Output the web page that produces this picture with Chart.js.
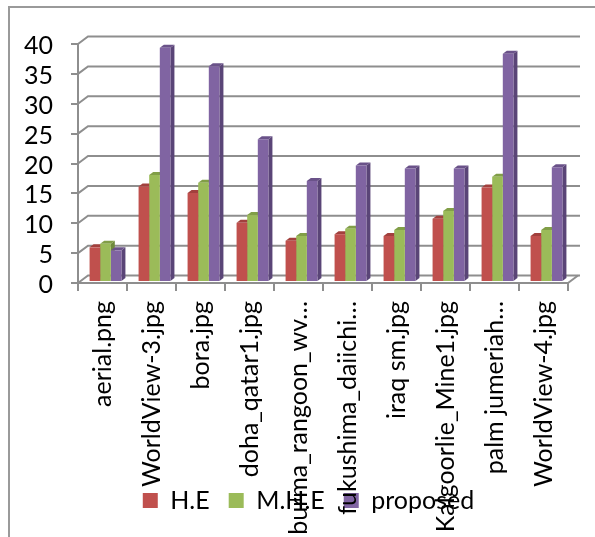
<!DOCTYPE html>
<html><head><meta charset="utf-8">
<script src="https://cdn.jsdelivr.net/npm/chart.js@4/dist/chart.umd.min.js"></script>
<style>
html,body{margin:0;padding:0;background:#fff;overflow:hidden;}
#wrap{position:relative;width:595px;height:537px;overflow:hidden;}
#frame{position:absolute;left:8px;top:6px;width:700px;height:700px;border-left:2px solid #9a9a9a;border-top:2px solid #9a9a9a;}
canvas{position:absolute;left:0;top:0;}
</style></head><body>
<div id="wrap"><div id="frame"></div><canvas id="c" width="595" height="537"></canvas></div>
<script>
// ---- data ----
const categories = ["aerial.png","WorldView-3.jpg","bora.jpg","doha_qatar1.jpg","burma_rangoon_wv\u2026","fukushima_daiichi\u2026","iraq sm.jpg","Kalgoorlie_Mine1.jpg","palm jumeriah\u2026","WorldView-4.jpg"];
const seriesNames = ["H.E","M.H.E","proposed"];
const heValues = [5.8, 16.0, 14.9, 9.9, 6.9, 8.0, 7.7, 10.6, 15.8, 7.7];
const mheValues = [6.4, 17.9, 16.6, 11.2, 7.7, 8.9, 8.7, 11.9, 17.6, 8.7];
const proposedValues = [5.3, 39.2, 36.1, 23.9, 16.9, 19.5, 19.0, 19.0, 38.2, 19.2];
const yMin = 0, yMax = 40, yStep = 5;

// ---- styles ----
const FONT = "Lato, 'Liberation Sans', sans-serif";
const gridColor = '#8e8e8e';
const fronts = ['#C0504D','#9BBB59','#8064A2'];
const sides  = ['#8B3533','#6F8A3C','#5A4577'];
const tops   = ['#A2403D','#819E47','#6A5289'];
const BDX = 4, BDY = 3;      // bar depth
const WDX = 10, WDY = 7.5;   // wall depth

const noLabelClip = {
  id: 'noLabelClip',
  beforeDraw(chart) {
    Object.values(chart.scales).forEach(s => { s._computeLabelArea = () => undefined; });
  }
};

const threeD = {
  id: 'threeD',
  beforeDatasetsDraw(chart) {
    const {ctx, chartArea: ca, scales: {x, y}} = chart;
    ctx.save();
    ctx.strokeStyle = gridColor; ctx.lineWidth = 2;
    y.ticks.forEach(t => {
      const py = y.getPixelForValue(t.value);
      ctx.beginPath();
      ctx.moveTo(ca.left, py);
      ctx.lineTo(ca.left + WDX, py - WDY);
      ctx.lineTo(ca.right + WDX + 2, py - WDY);
      ctx.stroke();
    });
    const y0 = y.getPixelForValue(0);
    ctx.beginPath(); ctx.moveTo(ca.right, y0); ctx.lineTo(ca.right + WDX, y0 - WDY); ctx.stroke();
    ctx.restore();
    ctx.save();
    ctx.translate(3, -1);
    chart.data.datasets.forEach((ds, i) => {
      const meta = chart.getDatasetMeta(i);
      meta.data.forEach(bar => {
        const p = bar.getProps(['x','y','base','width'], true);
        const l = p.x - p.width/2, r = p.x + p.width/2;
        ctx.fillStyle = sides[i];
        ctx.beginPath();
        ctx.moveTo(r, p.y); ctx.lineTo(r + BDX, p.y - BDY); ctx.lineTo(r + BDX, p.base - BDY); ctx.lineTo(r, p.base);
        ctx.closePath(); ctx.fill();
        ctx.fillStyle = tops[i];
        ctx.beginPath();
        ctx.moveTo(l, p.y); ctx.lineTo(l + BDX, p.y - BDY); ctx.lineTo(r + BDX, p.y - BDY); ctx.lineTo(r, p.y);
        ctx.closePath(); ctx.fill();
      });
    });
  },
  afterDatasetsDraw(chart) { chart.ctx.restore(); }
};

Chart.defaults.font.family = FONT;
Chart.defaults.color = '#000';

new Chart(document.getElementById('c'), {
  type: 'bar',
  data: {
    labels: categories,
    datasets: [
      {label: seriesNames[0], data: heValues, backgroundColor: fronts[0], borderColor: fronts[0], borderWidth: 0},
      {label: seriesNames[1], data: mheValues, backgroundColor: fronts[1], borderColor: fronts[1], borderWidth: 0},
      {label: seriesNames[2], data: proposedValues, backgroundColor: fronts[2], borderColor: fronts[2], borderWidth: 0}
    ]
  },
  options: {
    responsive: false,
    animation: false,
    events: [],
    categoryPercentage: 0.65,
    barPercentage: 1.0,
    layout: {padding: {top: 44, left: 49, right: 27, bottom: 14}},
    plugins: {
      tooltip: {enabled: false},
      legend: {
        position: 'bottom',
        labels: {boxWidth: 15, boxHeight: 15, padding: 19, font: {size: 25}, color: '#000'}
      }
    },
    scales: {
      x: {
        grid: {display: true, drawOnChartArea: false, drawTicks: true, tickLength: 8, color: gridColor, lineWidth: 2, offset: true},
        border: {display: true, color: gridColor, width: 2},
        ticks: {autoSkip: false, minRotation: 90, maxRotation: 90, padding: 10, font: {size: 25}, color: '#000'},
        afterFit(s) {
          const lg = s.chart.legend;
          s.height = s.chart.height - 14 - (lg ? lg.height : 0) - 283;
        }
      },
      y: {
        min: yMin, max: yMax,
        grid: {display: true, drawOnChartArea: false, drawTicks: true, tickLength: 7, color: gridColor, lineWidth: 2},
        border: {display: true, color: gridColor, width: 2},
        ticks: {stepSize: yStep, autoSkip: false, padding: 18, font: {size: 25}, color: '#000', labelOffset: 2},
        afterFit(s) { s.width = 29; }
      }
    }
  },
  plugins: [noLabelClip, threeD]
});
</script>
</body></html>
